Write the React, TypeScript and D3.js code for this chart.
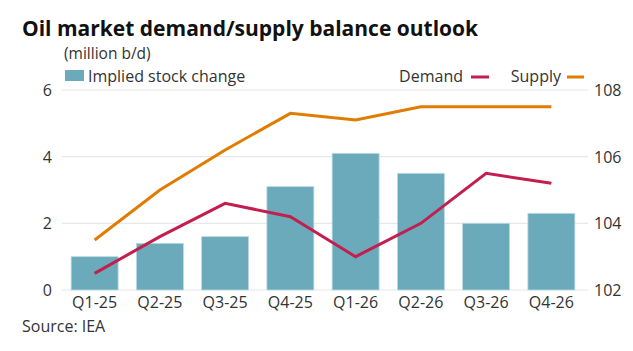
import * as d3 from 'd3';
import { useEffect, useRef } from 'react';

const quarters = ['Q1-25', 'Q2-25', 'Q3-25', 'Q4-25', 'Q1-26', 'Q2-26', 'Q3-26', 'Q4-26'];
const stockChange = [1.0, 1.4, 1.6, 3.1, 4.1, 3.5, 2.0, 2.3];
const demand = [102.5, 103.6, 104.6, 104.2, 103.0, 104.0, 105.5, 105.2];
const supply = [103.5, 105.0, 106.2, 107.3, 107.1, 107.5, 107.5, 107.5];
const leftTicks = [0, 2, 4, 6];
const rightTicks = [102, 104, 106, 108];

const width = 633;
const height = 351;
const FONT = '"Open Sans", "Noto Sans", sans-serif';

export default function App() {
  const ref = useRef<SVGSVGElement>(null);

  useEffect(() => {
    const svg = d3.select(ref.current);
    svg.selectAll('*').remove();

    const margin = { top: 90, right: 49, bottom: 61, left: 62 };
    const innerWidth = width - margin.left - margin.right;
    const innerHeight = height - margin.top - margin.bottom;

    const x = d3.scaleBand().domain(quarters).range([0, innerWidth]).paddingInner(0.28).paddingOuter(0.14);
    const yLeft = d3.scaleLinear().domain([0, 6]).range([innerHeight, 0]);
    const yRight = d3.scaleLinear().domain([102, 108]).range([innerHeight, 0]);

    svg.append('rect').attr('width', width).attr('height', height).attr('fill', '#fff');

    svg.append('text')
      .attr('x', 22)
      .attr('y', 36)
      .style('font-family', FONT)
      .style('font-size', '21px')
      .style('font-weight', 700)
      .style('fill', '#111')
      .text('Oil market demand/supply balance outlook');

    svg.append('text')
      .attr('x', 64)
      .attr('y', 59)
      .style('font-family', FONT)
      .style('font-size', '15.5px')
      .style('fill', '#333')
      .text('(million b/d)');

    const root = svg.append('g').attr('transform', `translate(${margin.left},${margin.top})`);

    // gridlines
    root.append('g')
      .selectAll('line')
      .data(leftTicks)
      .join('line')
      .attr('x1', 0)
      .attr('x2', innerWidth + 4)
      .attr('y1', (d) => yLeft(d))
      .attr('y2', (d) => yLeft(d))
      .attr('stroke', '#e8e8e8')
      .attr('stroke-width', 1.2);

    // left labels
    root.append('g')
      .selectAll('text')
      .data(leftTicks)
      .join('text')
      .attr('x', -10)
      .attr('y', (d) => yLeft(d) + 6)
      .attr('text-anchor', 'end')
      .style('font-family', FONT)
      .style('font-size', '16px')
      .style('fill', '#333')
      .text((d) => d);

    // right labels
    root.append('g')
      .selectAll('text')
      .data(rightTicks)
      .join('text')
      .attr('x', innerWidth + 10)
      .attr('y', (d) => yRight(d) + 6)
      .style('font-family', FONT)
      .style('font-size', '16px')
      .style('fill', '#333')
      .text((d) => d);

    // bars
    root.append('g')
      .selectAll('rect')
      .data(stockChange)
      .join('rect')
      .attr('x', (_d, i) => x(quarters[i]) as number)
      .attr('y', (d) => yLeft(d))
      .attr('width', x.bandwidth())
      .attr('height', (d) => innerHeight - yLeft(d))
      .attr('fill', '#6aaabb')
      .attr('stroke', '#b9dbe3')
      .attr('stroke-width', 0.8);

    const line = d3.line<number>()
      .x((_d, i) => (x(quarters[i]) as number) + x.bandwidth() / 2)
      .y((d) => yRight(d));

    root.append('path')
      .datum(supply)
      .attr('fill', 'none')
      .attr('stroke', '#e07c00')
      .attr('stroke-width', 3)
      .attr('d', line);

    root.append('path')
      .datum(demand)
      .attr('fill', 'none')
      .attr('stroke', '#c21f4e')
      .attr('stroke-width', 3)
      .attr('d', line);

    // x labels
    root.append('g')
      .selectAll('text')
      .data(quarters)
      .join('text')
      .attr('x', (d) => (x(d) as number) + x.bandwidth() / 2)
      .attr('y', innerHeight + 18)
      .attr('text-anchor', 'middle')
      .style('font-family', FONT)
      .style('font-size', '16px')
      .style('fill', '#333')
      .text((d) => d);

    // legend
    const legend = svg.append('g').style('font-family', FONT).style('font-size', '16px').style('fill', '#333');
    legend.append('rect').attr('x', 65).attr('y', 70).attr('width', 19).attr('height', 11).attr('fill', '#6aaabb');
    legend.append('text').attr('x', 88).attr('y', 82).text('Implied stock change');
    legend.append('text').attr('x', 463).attr('y', 82).attr('text-anchor', 'end').text('Demand');
    legend.append('line').attr('x1', 471).attr('x2', 489).attr('y1', 77).attr('y2', 77)
      .attr('stroke', '#c21f4e').attr('stroke-width', 3);
    legend.append('text').attr('x', 561).attr('y', 82).attr('text-anchor', 'end').text('Supply');
    legend.append('line').attr('x1', 567).attr('x2', 584).attr('y1', 77).attr('y2', 77)
      .attr('stroke', '#e07c00').attr('stroke-width', 3);

    svg.append('text')
      .attr('x', 22)
      .attr('y', 332)
      .style('font-family', FONT)
      .style('font-size', '16px')
      .style('fill', '#333')
      .text('Source: IEA');
  }, []);

  return (
    <div style={{ position: 'absolute', left: 0, top: 0 }}>
      <svg ref={ref} width={width} height={height} style={{ display: 'block' }} />
    </div>
  );
}
